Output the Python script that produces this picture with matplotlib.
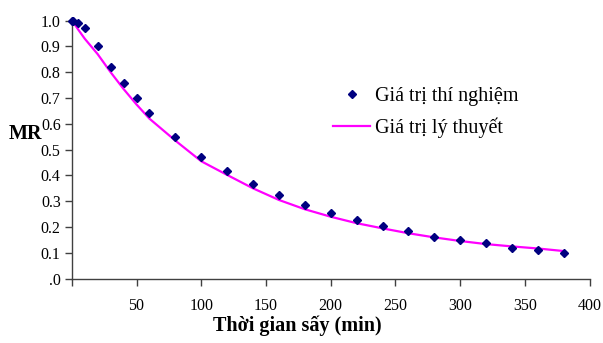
import matplotlib
matplotlib.use('Agg')
import matplotlib.pyplot as plt

# Thời gian sấy (phút)
t_tn = [0, 1, 5, 10, 20, 30, 40, 50, 60, 80, 100, 120, 140, 160, 180,
        200, 220, 240, 260, 280, 300, 320, 340, 360, 380]
# Giá trị thí nghiệm
mr_tn = [1.0, 1.0, 0.992, 0.97, 0.90, 0.82, 0.76, 0.70, 0.64, 0.55, 0.473,
         0.419, 0.367, 0.326, 0.284, 0.253, 0.228, 0.204, 0.184, 0.162,
         0.151, 0.137, 0.120, 0.111, 0.101]
# Giá trị lý thuyết
mr_lt = [1.0, 0.995, 0.965, 0.93, 0.87, 0.80, 0.735, 0.675, 0.62, 0.535,
         0.455, 0.402, 0.350, 0.305, 0.269, 0.240, 0.215, 0.195, 0.176,
         0.160, 0.146, 0.134, 0.125, 0.117, 0.107]

y_ticks = [0, 0.1, 0.2, 0.3, 0.4, 0.5, 0.6, 0.7, 0.8, 0.9, 1.0]
y_labels = ['.0', '0.1', '0.2', '0.3', '0.4', '0.5', '0.6', '0.7', '0.8', '0.9', '1.0']
x_ticks = [0, 50, 100, 150, 200, 250, 300, 350, 400]
x_labels = ['', '50', '100', '150', '200', '250', '300', '350', '400']

plt.rcParams['font.family'] = ['Liberation Serif', 'DejaVu Serif']

fig = plt.figure(figsize=(6.03, 3.43), dpi=100)
ax = fig.add_axes([0.119, 0.1875, 0.859, 0.7525])

ax.plot(t_tn, mr_lt, color='#FF00FF', lw=1.6, label='Giá trị lý thuyết', zorder=2)
ax.plot(t_tn, mr_tn, 'D', color='#000080', ms=4.5, ls='none',
        label='Giá trị thí nghiệm', clip_on=False, zorder=3)

ax.set_xlim(0, 400)
ax.set_ylim(0, 1.0)
ax.set_xticks(x_ticks)
ax.set_xticklabels(x_labels, fontsize=11.5)
ax.set_yticks(y_ticks)
ax.set_yticklabels(y_labels, fontsize=11.5)
ax.tick_params(axis='both', direction='out', length=5, width=1, color='#404040')
ax.tick_params(axis='x', pad=9)
ax.tick_params(axis='y', pad=3)

for s in ['top', 'right']:
    ax.spines[s].set_visible(False)
for s in ['left', 'bottom']:
    ax.spines[s].set_color('#404040')
    ax.spines[s].set_linewidth(1)

fig.text(297.5 / 603, 1 - 326 / 343, 'Thời gian sấy (min)', fontsize=14.5,
         fontweight='bold', ha='center', va='center')
fig.text(9 / 603, 1 - 134 / 343, 'MR', fontsize=14.5, fontweight='bold',
         ha='left', va='center')

h, l = ax.get_legend_handles_labels()
leg = ax.legend([h[1], h[0]], [l[1], l[0]], loc='center left',
                bbox_to_anchor=(333 / 603, 1 - 112.5 / 343),
                bbox_transform=fig.transFigure, frameon=False, fontsize=14.5,
                handlelength=1.85, handletextpad=0.25, labelspacing=0.6,
                borderpad=0, borderaxespad=0, numpoints=1, markerscale=0.8)

plt.savefig('out.png', dpi=100)
